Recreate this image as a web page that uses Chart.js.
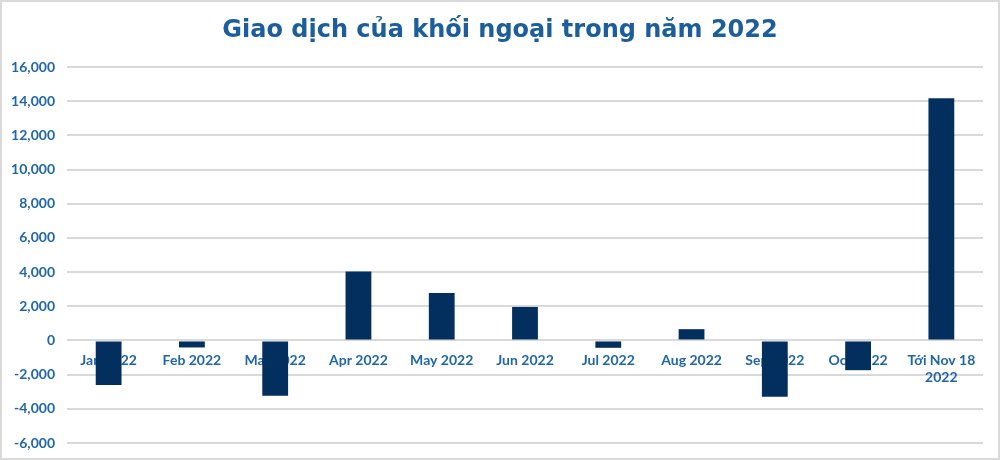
<!DOCTYPE html>
<html><head><meta charset="utf-8">
<script src="https://cdn.jsdelivr.net/npm/chart.js@4/dist/chart.umd.min.js"></script>
<style>
html,body{margin:0;padding:0;background:#fff;}
#wrap{position:relative;width:1000px;height:460px;}
#frame{position:absolute;left:0;top:0;width:1000px;height:460px;box-sizing:border-box;border:2px solid #d9d9d9;pointer-events:none;}
</style>
</head><body>
<div id="wrap"><canvas id="c" width="1000" height="460"></canvas><div id="frame"></div></div>
<script>
const titleText = 'Giao dịch của khối ngoại trong năm 2022';
const categories = ['Jan 2022','Feb 2022','Mar 2022','Apr 2022','May 2022','Jun 2022','Jul 2022','Aug 2022','Sep 2022','Oct 2022',['Tới Nov 18','2022']];
const values = [-2610, -410, -3230, 4030, 2780, 1960, -430, 660, -3290, -1740, 14170];
const yMin = -6000, yMax = 16000, yStep = 2000;

const tickColor = '#1f66aa';
const fontFam = "'Lato','Noto Sans',sans-serif";

new Chart(document.getElementById('c'), {
  type: 'bar',
  data: { labels: categories, datasets: [{ data: values, backgroundColor: '#032f5f', barPercentage: 0.62, categoryPercentage: 0.5 }] },
  options: {
    responsive: false, animation: false,
    layout: { padding: { left: 0, right: 0, top: 0, bottom: 17 } },
    plugins: {
      legend: { display: false }, tooltip: { enabled: false },
      title: { display: true, text: titleText, color: '#1b5e9b',
        font: { family: "'DejaVu Sans',sans-serif", size: 24, weight: 'bold' }, padding: { top: 16, bottom: 22.2 } }
    },
    scales: {
      x: { position: { y: 0 },
        grid: { display: false, drawTicks: false }, border: { display: false },
        ticks: { color: tickColor, font: { family: fontFam, size: 14, weight: 'bold' }, padding: 12, maxRotation: 0, autoSkip: false } },
      y: { min: yMin, max: yMax,
        afterFit: s => { s.width = 67; s.paddingTop = 0; s.paddingBottom = 0; },
        grid: { color: '#d9d9d9', lineWidth: 2, drawTicks: false }, border: { display: false },
        ticks: { stepSize: yStep, color: tickColor, padding: 12,
          font: { family: fontFam, size: 14, weight: 'bold' },
          callback: v => v.toLocaleString('en-US') } },
      yRight: { position: 'right', min: yMin, max: yMax,
        afterFit: s => { s.width = 17; s.paddingTop = 0; s.paddingBottom = 0; },
        grid: { display: false, drawTicks: false }, border: { display: false },
        ticks: { display: false } }
    }
  }
});
</script>
</body></html>
